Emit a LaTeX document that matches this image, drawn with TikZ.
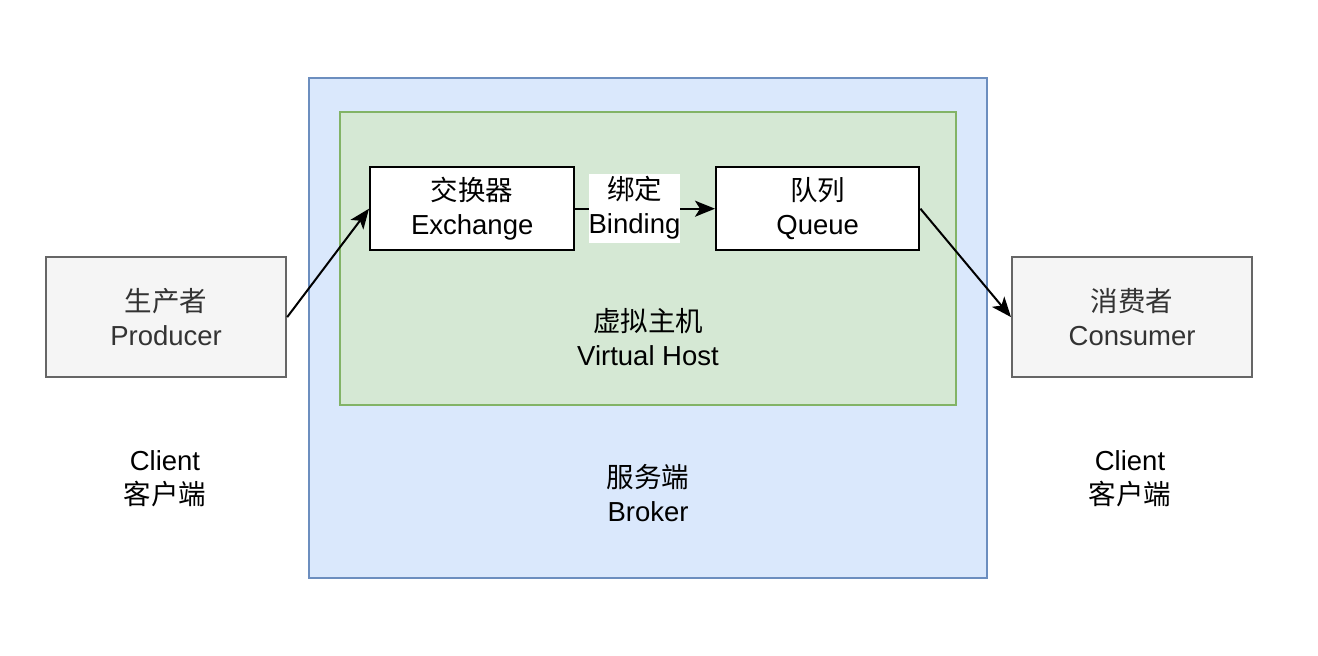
\documentclass[tikz,border=0pt]{standalone}
\usepackage{fontspec}
\setmainfont{Liberation Sans}
\newfontfamily\cjk{Noto Sans CJK SC}
\usetikzlibrary{arrows.meta}
\definecolor{brokerfill}{HTML}{DAE8FC}
\definecolor{brokerline}{HTML}{6C8EBF}
\definecolor{vhfill}{HTML}{D5E8D4}
\definecolor{vhline}{HTML}{82B366}
\definecolor{clfill}{HTML}{F5F5F5}
\definecolor{clline}{HTML}{666666}
\definecolor{cltext}{HTML}{333333}
\tikzset{
  txt/.style={font=\fontsize{27.5}{34}\selectfont, align=center, inner sep=0pt},
  whitebox/.style={draw=black, line width=2.4pt, fill=white},
  clientbox/.style={draw=clline, line width=2.2pt, fill=clfill},
  conn/.style={line width=2pt, -{Stealth[length=20pt,width=16pt,inset=5pt]}},
}
\begin{document}
\begin{tikzpicture}[x=1pt,y=-1pt]
\useasboundingbox (0,0) rectangle (1318,656);
% broker
\path[draw=brokerline, fill=brokerfill, line width=1.8pt] (309,78) rectangle (987,578);
\node[txt] (brokerlbl) at (648,493) {{\cjk 服务端}\\Broker};
% virtual host
\path[draw=vhline, fill=vhfill, line width=1.8pt] (340,112) rectangle (956,405);
\node[txt] (vhlbl) at (648,337) {{\cjk 虚拟主机}\\Virtual Host};
% exchange & queue
\node[whitebox, minimum width=204pt, minimum height=83pt, anchor=north west, inner sep=0pt] (ex) at (369,166) {};
\node[txt] at (ex.center) {{\cjk 交换器}\\Exchange};
\node[whitebox, minimum width=203pt, minimum height=83pt, anchor=north west, inner sep=0pt] (q) at (715,166) {};
\node[txt] at (q.center) {{\cjk 队列}\\Queue};
% clients
\node[clientbox, minimum width=240pt, minimum height=120pt, anchor=north west, inner sep=0pt] (prod) at (45,256) {};
\node[txt, text=cltext] at (prod.center) {{\cjk 生产者}\\Producer};
\node[clientbox, minimum width=240pt, minimum height=120pt, anchor=north west, inner sep=0pt] (cons) at (1011,256) {};
\node[txt, text=cltext] at (cons.center) {{\cjk 消费者}\\Consumer};
% connectors
\draw[conn] (prod.east) -- (ex.west);
\draw[conn] (ex.east) -- (q.west);
\node[txt, fill=white, inner xsep=0pt, inner ysep=3pt] (bind) at (634.5,208) {{\cjk 绑定}\\Binding};
\draw[conn] (q.east) -- (cons.west);
% client labels
\node[txt] (cl1) at (165,479) {Client\\{\cjk 客户端}};
\node[txt] (cl2) at (1130,479) {Client\\{\cjk 客户端}};
\end{tikzpicture}
\end{document}
